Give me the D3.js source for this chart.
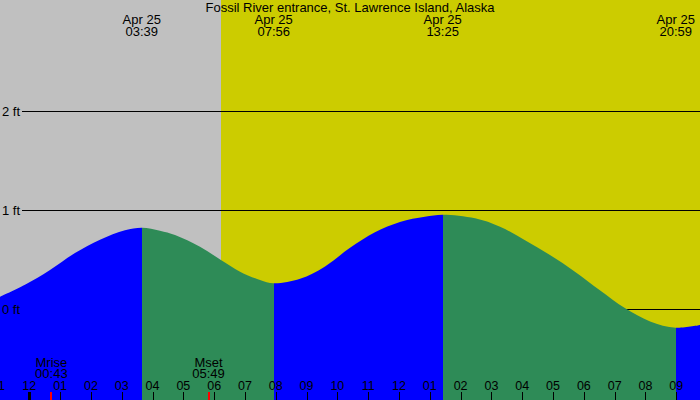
<!DOCTYPE html>
<html><head><meta charset="utf-8">
<script src="https://cdn.jsdelivr.net/npm/d3@7"></script>
<style>body{margin:0;padding:0;overflow:hidden;background:#fff}svg{display:block}text{font-family:"Liberation Sans",Arial,sans-serif;fill:#000}</style>
</head><body>
<svg id="chart" width="700" height="400"></svg>
<script>
// ---- data (hours since midnight Apr 25) ----
const title = "Fossil River entrance, St. Lawrence Island, Alaska";
const domainHours = [-0.951, 21.77];
const tideHours = [-0.951, -0.14, 0.672, 1.483, 2.295, 3.106, 3.65, 4.24, 4.73, 5.54, 6.22, 6.84, 7.49, 7.933, 8.79, 9.6, 10.4, 11.22, 12.03, 12.84, 13.417, 14.47, 15.28, 16.09, 16.9, 17.71, 18.52, 19.33, 20.15, 20.983, 21.77];
const tideFeet  = [0.124, 0.245, 0.395, 0.565, 0.70, 0.795, 0.821, 0.791, 0.747, 0.629, 0.495, 0.377, 0.293, 0.26, 0.305, 0.43, 0.615, 0.775, 0.88, 0.932, 0.953, 0.916, 0.831, 0.694, 0.545, 0.377, 0.19, 0.01, -0.125, -0.189, -0.162];
const extremeHours = [3.65, 7.933, 13.417, 20.983];
const extremeDates = ["Apr 25", "Apr 25", "Apr 25", "Apr 25"];
const extremeTimes = ["03:39", "07:56", "13:25", "20:59"];
const extremeKinds = ["high", "low", "high", "low"];
const sunriseHour = 6.217;   // 06:13
const moonNames = ["Mrise", "Mset"];
const moonTimes = ["00:43", "05:49"];
const moonHours = [0.717, 5.817];
const feetTicks = [0, 1, 2];
const feetLabels = ["0 ft", "1 ft", "2 ft"];
const hourTicks = d3.range(-1, 22);
const hourLabels = ["11","12","01","02","03","04","05","06","07","08","09","10","11","12","01","02","03","04","05","06","07","08","09"];

// ---- drawing ----
const W = 700, H = 400;
const svg = d3.select("#chart");
const x = d3.scaleLinear().domain(domainHours).range([0, W]);
const y = d3.scaleLinear().domain([0, 2]).range([309, 111]);

// background night / day
svg.append("rect").attr("x", 0).attr("y", 0).attr("width", Math.round(x(sunriseHour))).attr("height", H).attr("fill", "#c0c0c0");
svg.append("rect").attr("x", Math.round(x(sunriseHour))).attr("y", 0).attr("width", W - Math.round(x(sunriseHour))).attr("height", H).attr("fill", "#cccc00");

// grid lines (behind the tide)
svg.selectAll("line.grid").data(feetTicks).enter().append("line")
  .attr("x1", 22).attr("x2", W)
  .attr("y1", d => Math.round(y(d)) + 0.5).attr("y2", d => Math.round(y(d)) + 0.5)
  .attr("stroke", "#000").attr("stroke-width", 1);

// tide area split into rising/falling segments
const pts = tideHours.map((h, i) => [h, tideFeet[i]]);
const area = d3.area().x(d => x(d[0])).y0(H).y1(d => y(d[1])).curve(d3.curveCatmullRom.alpha(0.5));
const bounds = [domainHours[0], ...extremeHours, domainHours[1]];
const defs = svg.append("defs");
for (let i = 0; i < bounds.length - 1; i++) {
  const id = "seg" + i;
  const x0 = Math.round(x(bounds[i])), x1 = Math.round(x(bounds[i + 1]));
  defs.append("clipPath").attr("id", id).append("rect")
    .attr("x", x0).attr("y", 0).attr("width", x1 - x0).attr("height", H);
  const rising = i === 0 ? extremeKinds[0] === "high" : extremeKinds[i - 1] === "low";
  svg.append("path").datum(pts).attr("d", area)
    .attr("fill", rising ? "#0000ff" : "#2e8b57")
    .attr("clip-path", `url(#${id})`);
}

// foot labels
svg.selectAll("text.ft").data(feetTicks).enter().append("text")
  .attr("x", 2).attr("y", d => y(d) + 5)
  .style("font-size", "13px").text((d, i) => feetLabels[i]);

// title
svg.append("text").attr("x", 350).attr("y", 12).attr("text-anchor", "middle")
  .style("font-size", "13px").text(title);

// extreme labels
extremeHours.forEach((h, i) => {
  svg.append("text").attr("x", x(h)).attr("y", 24).attr("text-anchor", "middle").style("font-size", "13px").text(extremeDates[i]);
  svg.append("text").attr("x", x(h)).attr("y", 36).attr("text-anchor", "middle").style("font-size", "13px").text(extremeTimes[i]);
});

// moon labels
moonHours.forEach((h, i) => {
  svg.append("text").attr("x", x(h)).attr("y", 366.5).attr("text-anchor", "middle").style("font-size", "13px").text(moonNames[i]);
  svg.append("text").attr("x", x(h)).attr("y", 377.5).attr("text-anchor", "middle").style("font-size", "13px").text(moonTimes[i]);
});

// hour axis
svg.selectAll("text.hr").data(hourTicks).enter().append("text")
  .attr("x", d => x(d)).attr("y", 389.5).attr("text-anchor", "middle")
  .style("font-size", "12.5px").text((d, i) => hourLabels[i]);
svg.selectAll("line.hr").data(hourTicks).enter().append("line")
  .attr("x1", d => Math.round(x(d)) + 0.5).attr("x2", d => Math.round(x(d)) + 0.5)
  .attr("y1", 392).attr("y2", H)
  .attr("stroke", "#000").attr("stroke-width", d => d === 0 ? 3 : 1);
svg.selectAll("line.moon").data(moonHours).enter().append("line")
  .attr("x1", d => Math.round(x(d))).attr("x2", d => Math.round(x(d)))
  .attr("y1", 392).attr("y2", H)
  .attr("stroke", "#ff0000").attr("stroke-width", 2);
</script>
</body></html>
